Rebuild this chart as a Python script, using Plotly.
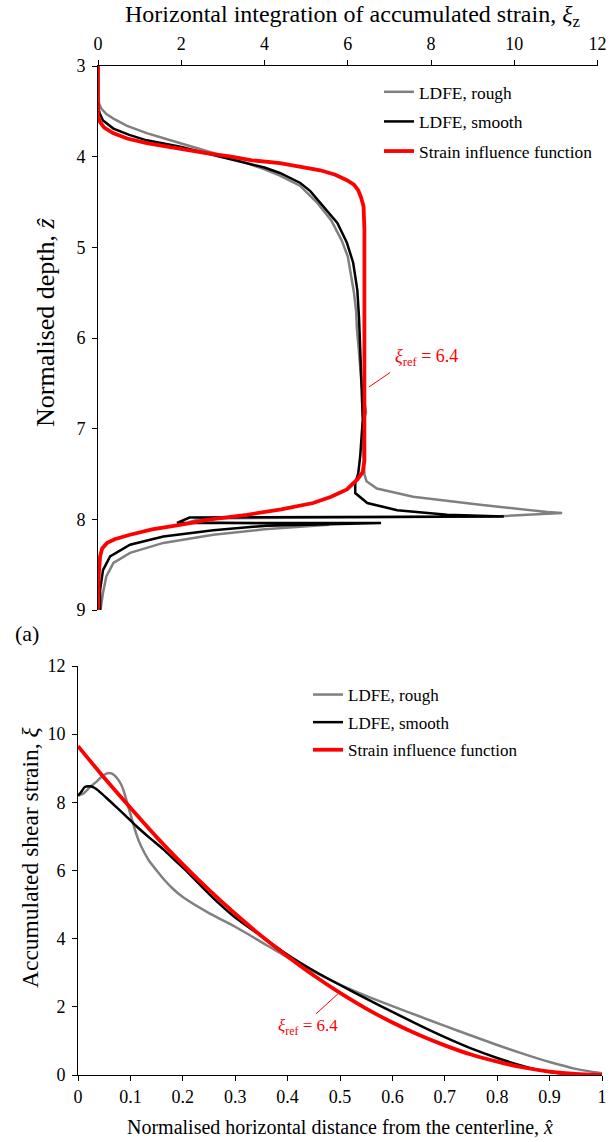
import plotly.graph_objects as go

# ---------------- Top panel data (xi_z vs normalised depth z) ----------------
top_rough_xi = [0, 0, 0.03, 0.08, 0.2, 0.37, 0.7, 1.17, 1.6, 1.98, 2.4, 2.77, 3.2, 3.57, 4.0, 4.37,
                4.85, 5.25, 5.6, 5.85, 6.0, 6.08, 6.15, 6.2, 6.22, 6.26, 6.3, 6.33, 6.4, 6.44, 6.38,
                6.36, 6.38, 6.4, 6.45, 6.7, 7.57, 9.18, 10.8, 11.15, 9.5, 2.5, 2.2, 5.55, 4.0, 2.77,
                1.57, 0.77, 0.37, 0.2, 0.12, 0.06]
top_rough_z = [3.0, 3.35, 3.42, 3.47, 3.53, 3.58, 3.66, 3.74, 3.8, 3.85, 3.91, 3.96, 4.02, 4.07, 4.14, 4.21,
               4.32, 4.5, 4.7, 4.92, 5.1, 5.3, 5.5, 5.7, 5.9, 6.1, 6.3, 6.5, 6.7, 6.82, 6.9,
               7.1, 7.3, 7.5, 7.58, 7.66, 7.75, 7.84, 7.92, 7.93, 7.97, 7.99, 8.03, 8.06, 8.11, 8.17,
               8.26, 8.37, 8.48, 8.63, 8.81, 9.0]

top_smooth_xi = [0, 0, 0.04, 0.12, 0.37, 0.75, 1.17, 1.6, 1.98, 2.4, 2.77, 3.2, 3.57, 4.0, 4.37, 4.86,
                 5.1, 5.34, 5.55, 5.75, 5.98, 6.13, 6.23, 6.27, 6.3, 6.33, 6.36, 6.33, 6.3, 6.25, 6.18,
                 6.18, 6.47, 7.19, 8.39, 9.75, 2.2, 1.9, 6.8, 4.06, 2.77, 1.57, 0.77, 0.29, 0.12, 0.05, 0.05]
top_smooth_z = [3.0, 3.45, 3.52, 3.6, 3.69, 3.76, 3.82, 3.86, 3.89, 3.94, 3.98, 4.03, 4.07, 4.12, 4.18, 4.29,
                4.38, 4.51, 4.62, 4.73, 4.95, 5.17, 5.47, 5.77, 6.13, 6.5, 6.9, 7.1, 7.3, 7.5, 7.6,
                7.71, 7.82, 7.9, 7.95, 7.97, 7.98, 8.04, 8.04, 8.07, 8.12, 8.19, 8.28, 8.41, 8.56, 8.78, 9.0]

top_sif_xi = [0, 0, 0.05, 0.15, 0.36, 0.7, 1.17, 1.9, 2.6, 3.2, 3.7, 4.37, 4.9, 5.34, 5.7, 5.98, 6.15,
              6.25, 6.32, 6.38, 6.4, 6.4, 6.36, 6.23, 5.98, 5.6, 5.17, 4.4, 3.58, 2.7, 1.97, 1.3, 0.77,
              0.4, 0.22, 0.1, 0.05, 0.02, 0]
top_sif_z = [3.0, 3.55, 3.62, 3.68, 3.74, 3.8, 3.85, 3.91, 3.96, 4.0, 4.04, 4.07, 4.11, 4.15, 4.2, 4.26, 4.31,
             4.37, 4.45, 4.55, 4.8, 7.35, 7.48, 7.56, 7.67, 7.75, 7.82, 7.89, 7.95, 8.0, 8.06, 8.11, 8.17,
             8.22, 8.26, 8.32, 8.41, 8.6, 9.0]

# ---------------- Bottom panel data (xi vs normalised horizontal distance) ----------------
bot_rough_x = [0, 0.01, 0.023, 0.035, 0.045, 0.055, 0.065, 0.075, 0.083, 0.09, 0.096, 0.103, 0.109, 0.116,
               0.124, 0.135, 0.15, 0.165, 0.18, 0.2, 0.25, 0.3, 0.35, 0.4, 0.45, 0.5, 0.55, 0.6, 0.65,
               0.7, 0.75, 0.8, 0.85, 0.9, 0.95, 1.0]
bot_rough_y = [8.2, 8.25, 8.45, 8.6, 8.75, 8.85, 8.84, 8.7, 8.5, 8.2, 7.86, 7.5, 7.18, 6.87,
               6.6, 6.3, 6.0, 5.72, 5.48, 5.22, 4.75, 4.35, 3.9, 3.45, 3.03, 2.65, 2.32, 2.02, 1.73,
               1.44, 1.16, 0.88, 0.62, 0.38, 0.18, 0.05]

bot_smooth_x = [0, 0.006, 0.013, 0.023, 0.032, 0.042, 0.055, 0.067, 0.09, 0.11, 0.135, 0.163, 0.185, 0.208,
                0.24, 0.27, 0.3, 0.35, 0.4, 0.45, 0.5, 0.55, 0.6, 0.65, 0.7, 0.75, 0.8, 0.85, 0.9, 0.95, 1.0]
bot_smooth_y = [8.2, 8.3, 8.45, 8.47, 8.42, 8.3, 8.12, 7.95, 7.62, 7.32, 6.98, 6.62, 6.3, 5.97,
                5.47, 5.02, 4.62, 4.07, 3.53, 3.06, 2.64, 2.24, 1.85, 1.47, 1.11, 0.78, 0.5, 0.26, 0.09, 0.02, 0.0]

bot_sif_x = [0, 0.05, 0.1, 0.15, 0.2, 0.25, 0.3, 0.35, 0.4, 0.45, 0.5, 0.55, 0.6, 0.65, 0.7, 0.75,
             0.8, 0.85, 0.9, 0.95, 1.0]
bot_sif_y = [9.65, 8.72, 7.84, 6.98, 6.18, 5.43, 4.73, 4.08, 3.48, 2.92, 2.41, 1.95, 1.54, 1.18, 0.87, 0.6,
             0.39, 0.22, 0.1, 0.03, 0.0]

series_names = ["LDFE, rough", "LDFE, smooth", "Strain influence function"]
top_ticks = [0, 2, 4, 6, 8, 10, 12]
depth_ticks = [3, 4, 5, 6, 7, 8, 9]
bot_x_ticks = [0, 0.1, 0.2, 0.3, 0.4, 0.5, 0.6, 0.7, 0.8, 0.9, 1]
bot_y_ticks = [0, 2, 4, 6, 8, 10, 12]

W, H = 612, 1142
FONT = "Liberation Serif"
GRAY, BLACK, RED = "#808080", "#000000", "#ff0000"


def px(x):
    return x / W


def py(y):
    return 1 - y / H


fig = go.Figure()
styles = [(GRAY, 2.5), (BLACK, 2.5), (RED, 3.8)]
top_data = [(top_rough_xi, top_rough_z), (top_smooth_xi, top_smooth_z), (top_sif_xi, top_sif_z)]
bot_data = [(bot_rough_x, bot_rough_y), (bot_smooth_x, bot_smooth_y), (bot_sif_x, bot_sif_y)]

for i, ((xs, ys), (c, w)) in enumerate(zip(top_data, styles)):
    fig.add_trace(go.Scatter(x=xs, y=ys, mode="lines", name=series_names[i],
                             line=dict(color=c, width=w), xaxis="x", yaxis="y",
                             legend="legend", legendgroup=f"t{i}", cliponaxis=False))
for i, ((xs, ys), (c, w)) in enumerate(zip(bot_data, styles)):
    fig.add_trace(go.Scatter(x=xs, y=ys, mode="lines", name=series_names[i],
                             line=dict(color=c, width=w, shape="spline", smoothing=0.6),
                             xaxis="x2", yaxis="y2",
                             legend="legend2", legendgroup=f"b{i}", cliponaxis=False))

axis_common = dict(showgrid=False, zeroline=False, showline=True, linecolor="black", linewidth=1,
                   ticks="outside", ticklen=5, tickwidth=1, tickcolor="black",
                   tickfont=dict(family=FONT, size=18, color="black"), automargin=False)

fig.update_layout(
    width=W, height=H,
    margin=dict(l=0, r=0, t=0, b=0),
    paper_bgcolor="white", plot_bgcolor="white",
    font=dict(family=FONT, color="black"),
    xaxis=dict(axis_common, domain=[px(98), px(597.5)], range=[0, 12], tickvals=top_ticks,
               side="top", anchor="y", ticklabelstandoff=3),
    yaxis=dict(axis_common, domain=[py(610), py(66)], range=[9, 3], tickvals=depth_ticks, anchor="x",
               ticklabelstandoff=3),
    xaxis2=dict(axis_common, domain=[px(78), px(602)], range=[0, 1], tickvals=bot_x_ticks,
                ticktext=[str(v) for v in bot_x_ticks], anchor="y2"),
    yaxis2=dict(axis_common, domain=[py(1075), py(666)], range=[0, 12], tickvals=bot_y_ticks, anchor="x2",
                ticklabelstandoff=3),
    legend=dict(x=px(379), y=py(74), xanchor="left", yanchor="top", bgcolor="rgba(0,0,0,0)",
                font=dict(family=FONT, size=17.4, color="black"), tracegroupgap=4, itemwidth=30),
    legend2=dict(x=px(308), y=py(677), xanchor="left", yanchor="top", bgcolor="rgba(0,0,0,0)",
                 font=dict(family=FONT, size=17, color="black"), tracegroupgap=2.5, itemwidth=30),
    showlegend=True,
)

annos = [
    dict(text="Horizontal integration of accumulated strain, <i>ξ</i><sub>z</sub>",
         x=px(353), y=py(16), size=24),
    dict(text="Normalised depth, <i>ẑ</i>", x=px(45), y=py(322), size=26, angle=-90),
    dict(text="Accumulated shear strain, <i>ξ</i>", x=px(30), y=py(857), size=23.5, angle=-90),
    dict(text="Normalised horizontal distance from the centerline, <i>x̂</i>",
         x=px(340), y=py(1127), size=20),
    dict(text="(a)", x=px(27), y=py(633), size=22),
]
for a in annos:
    fig.add_annotation(xref="paper", yref="paper", showarrow=False, xanchor="center", yanchor="middle",
                       font=dict(family=FONT, color="black", size=a["size"]),
                       text=a["text"], x=a["x"], y=a["y"], textangle=a.get("angle", 0))

# xi_ref annotations (data coordinates)
fig.add_annotation(xref="x", yref="y", x=7.88, y=6.21, showarrow=False,
                   text="<i>ξ</i><sub>ref</sub> = 6.4", font=dict(family=FONT, size=18, color=RED))
fig.add_shape(type="line", xref="x", yref="y", x0=6.51, y0=6.54, x1=7.02, y1=6.38,
              line=dict(color=RED, width=1))
fig.add_annotation(xref="x2", yref="y2", x=0.439, y=1.41, showarrow=False,
                   text="<i>ξ</i><sub>ref</sub> = 6.4", font=dict(family=FONT, size=17, color=RED))
fig.add_shape(type="line", xref="x2", yref="y2", x0=0.454, y0=1.79, x1=0.496, y1=2.38,
              line=dict(color=RED, width=1))

fig.write_html("out.html", config={"displayModeBar": False},
               post_script="document.body.style.margin='0';")
